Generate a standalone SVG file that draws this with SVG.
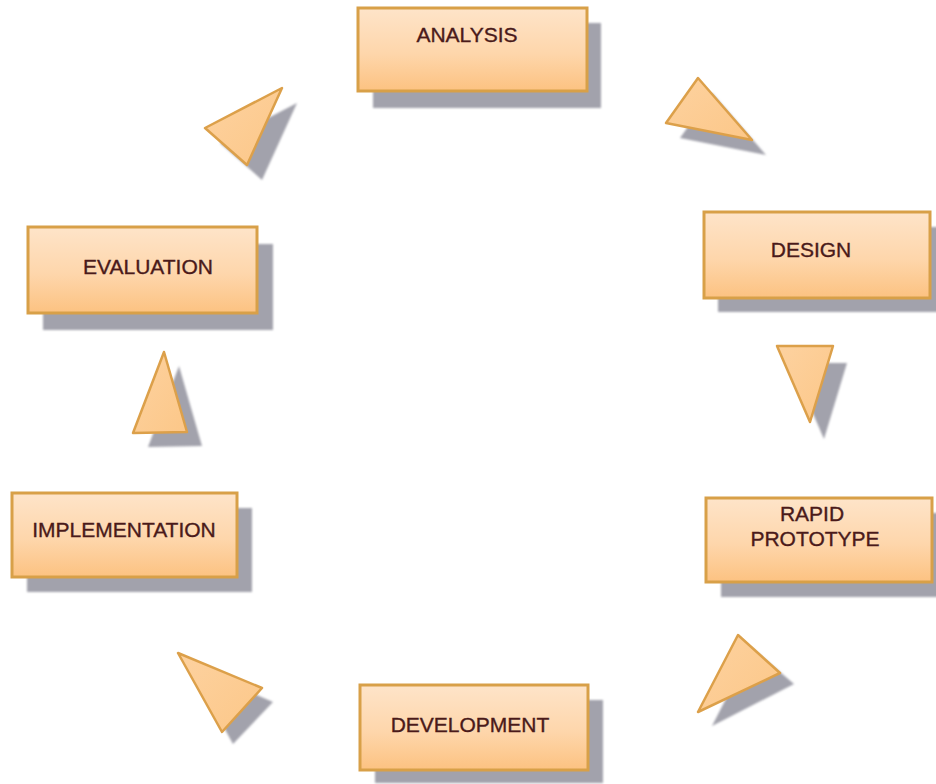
<svg xmlns="http://www.w3.org/2000/svg" width="936" height="784" viewBox="0 0 936 784">
<defs>
<linearGradient id="boxFill" x1="0" y1="0" x2="0" y2="1">
<stop offset="0" stop-color="#fee4c9"/>
<stop offset="0.55" stop-color="#fed6ab"/>
<stop offset="1" stop-color="#fcc281"/>
</linearGradient>
<linearGradient id="triFill" x1="0" y1="0" x2="1" y2="1">
<stop offset="0" stop-color="#fdd2a0"/>
<stop offset="1" stop-color="#fcc788"/>
</linearGradient>
<filter id="soft" x="-10%" y="-10%" width="120%" height="120%">
<feGaussianBlur stdDeviation="1"/>
</filter>
</defs>
<style>
.shadow{fill:#a2a2ac;filter:url(#soft)}
.box{fill:url(#boxFill);stroke:#d8a048;stroke-width:3}
.tri{fill:url(#triFill);stroke:#dca04a;stroke-width:2.5;stroke-linejoin:round}
.lbl{font-family:"Liberation Sans",Arial,sans-serif;font-size:21px;fill:#4a1a1a;stroke:#4a1a1a;stroke-width:0.35;text-anchor:middle}
</style>
<rect width="936" height="784" fill="#ffffff"/>
<g id="connectors">
<g id="arrow-analysis-design">
<polygon class="shadow" points="712,93 680,138 766,155"/>
<polygon class="tri" points="698,78 666,123 752,140"/>
</g>
<g id="arrow-design-prototype">
<polygon class="shadow" points="791,363 847,363 824,439"/>
<polygon class="tri" points="777,346 833,346 810,422"/>
</g>
<g id="arrow-prototype-development">
<polygon class="shadow" points="752,648 794,684 712,726"/>
<polygon class="tri" points="738,635 780,673 698,712"/>
</g>
<g id="arrow-development-implementation">
<polygon class="shadow" points="190,666 273,702 233,744"/>
<polygon class="tri" points="178,653 262,688 222,732"/>
</g>
<g id="arrow-implementation-evaluation">
<polygon class="shadow" points="179,366 148,447 202,446"/>
<polygon class="tri" points="164,352 133,433 187,432"/>
</g>
<g id="arrow-evaluation-analysis">
<polygon class="shadow" points="220,143 297,103 262,180"/>
<polygon class="tri" points="205,128 282,88 247,165"/>
</g>
</g>
<g id="node-analysis">
<rect class="shadow" x="373" y="23" width="228" height="85"/>
<rect class="box" x="358" y="8" width="229" height="83"/>
<text class="lbl" x="467" y="42">ANALYSIS</text>
</g>
<g id="node-design">
<rect class="shadow" x="718" y="227" width="222" height="85"/>
<rect class="box" x="704" y="212" width="226" height="86"/>
<text class="lbl" x="811" y="257">DESIGN</text>
</g>
<g id="node-rapid-prototype">
<rect class="shadow" x="721" y="513" width="222" height="84"/>
<rect class="box" x="706" y="498" width="226" height="84"/>
<text class="lbl" x="812" y="521">RAPID</text>
<text class="lbl" x="815" y="546">PROTOTYPE</text>
</g>
<g id="node-development">
<rect class="shadow" x="375" y="700" width="228" height="83"/>
<rect class="box" x="360" y="685" width="228" height="85"/>
<text class="lbl" x="470" y="732">DEVELOPMENT</text>
</g>
<g id="node-implementation">
<rect class="shadow" x="27" y="508" width="225" height="84"/>
<rect class="box" x="12" y="493" width="225" height="84"/>
<text class="lbl" x="124" y="537">IMPLEMENTATION</text>
</g>
<g id="node-evaluation">
<rect class="shadow" x="43" y="244" width="230" height="86"/>
<rect class="box" x="28" y="227" width="229" height="86"/>
<text class="lbl" x="148" y="274">EVALUATION</text>
</g>
</svg>
